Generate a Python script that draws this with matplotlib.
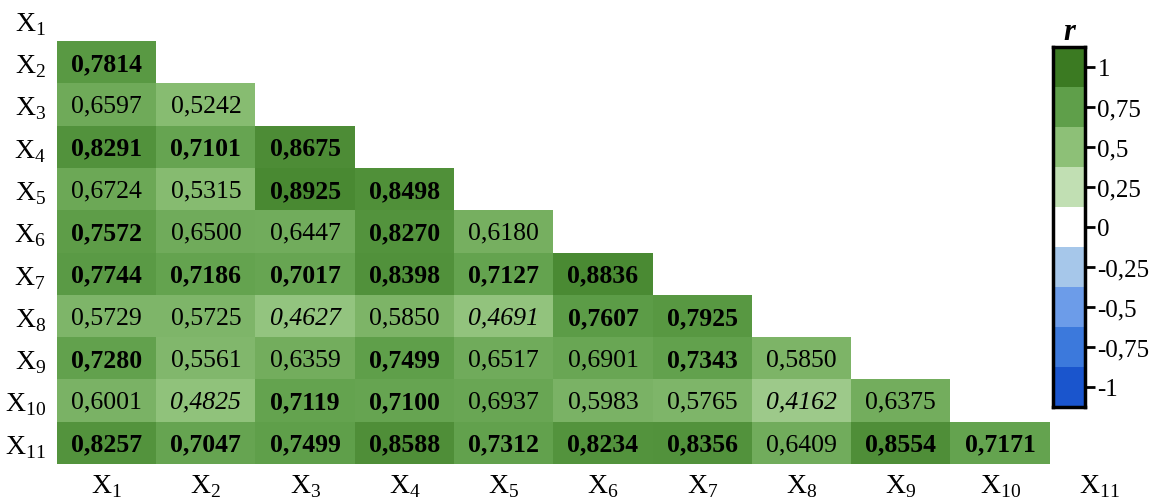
import numpy as np
import matplotlib
matplotlib.use("Agg")
import matplotlib.pyplot as plt
from matplotlib.colors import LinearSegmentedColormap, ListedColormap

plt.rcParams['font.family'] = ['Liberation Serif', 'DejaVu Serif']
plt.rcParams['mathtext.fontset'] = 'custom'
plt.rcParams['mathtext.rm'] = 'Liberation Serif'

# variable names
labels = ['X1', 'X2', 'X3', 'X4', 'X5', 'X6', 'X7', 'X8', 'X9', 'X10', 'X11']

# lower triangle of the correlation matrix, row by row (X2..X11)
row_x2 = [0.7814]
row_x3 = [0.6597, 0.5242]
row_x4 = [0.8291, 0.7101, 0.8675]
row_x5 = [0.6724, 0.5315, 0.8925, 0.8498]
row_x6 = [0.7572, 0.6500, 0.6447, 0.8270, 0.6180]
row_x7 = [0.7744, 0.7186, 0.7017, 0.8398, 0.7127, 0.8836]
row_x8 = [0.5729, 0.5725, 0.4627, 0.5850, 0.4691, 0.7607, 0.7925]
row_x9 = [0.7280, 0.5561, 0.6359, 0.7499, 0.6517, 0.6901, 0.7343, 0.5850]
row_x10 = [0.6001, 0.4825, 0.7119, 0.7100, 0.6937, 0.5983, 0.5765, 0.4162, 0.6375]
row_x11 = [0.8257, 0.7047, 0.7499, 0.8588, 0.7312, 0.8234, 0.8356, 0.6409, 0.8554, 0.7171]
rows = [[], row_x2, row_x3, row_x4, row_x5, row_x6, row_x7, row_x8, row_x9, row_x10, row_x11]

# colour scale anchors (-1 .. 1 step 0.25)
cbar_ticks = [-1, -0.75, -0.5, -0.25, 0, 0.25, 0.5, 0.75, 1]
cbar_labels = ['-1', '-0,75', '-0,5', '-0,25', '0', '0,25', '0,5', '0,75', '1']
cbar_colors = ['#1a55cd', '#3c79dc', '#6c9ce9', '#a6c7ea', '#ffffff',
               '#c1dfb3', '#8dc077', '#5f9f4a', '#3b7a22']

n = len(labels)
mat = np.full((n, n), np.nan)
for i, r in enumerate(rows):
    for j, v in enumerate(r):
        mat[i, j] = v

cmap = LinearSegmentedColormap.from_list(
    'rg', list(zip([(t + 1) / 2 for t in cbar_ticks], cbar_colors)))
cmap.set_bad('white')

W, H = 1157, 502
fig = plt.figure(figsize=(W / 100, H / 100), dpi=100)
ax = fig.add_axes([57 / W, (H - 465) / H, (1149 - 57) / W, 465 / H])
ax.imshow(np.ma.masked_invalid(mat), cmap=cmap, vmin=-1, vmax=1,
          aspect='auto', interpolation='nearest')

for i in range(n):
    for j in range(n):
        v = mat[i, j]
        if np.isnan(v):
            continue
        weight = 'bold' if v >= 0.7 else 'normal'
        style = 'italic' if v < 0.5 else 'normal'
        ax.text(j, i + 0.03, f'{v:.4f}'.replace('.', ','), ha='center', va='center',
                fontsize=18.5, fontweight=weight, fontstyle=style, color='black')

tick_txt = [r'X$_{\mathregular{%s}}$' % s[1:] for s in labels]
ax.set_xticks(range(n))
ax.set_xticklabels(tick_txt, fontsize=20)
ax.set_yticks(range(n))
ax.set_yticklabels(tick_txt, fontsize=20)
ax.tick_params(axis='y', length=0, pad=8)
ax.tick_params(axis='x', length=0, pad=6)
for sp in ax.spines.values():
    sp.set_visible(False)

# discrete colour bar
cax = fig.add_axes([1053 / W, (H - 408) / H, 32 / W, 360 / H])
cax.imshow(np.array(cbar_ticks).reshape(-1, 1), cmap=ListedColormap(cbar_colors),
           aspect='auto', origin='lower',
           extent=[0, 1, -1.125, 1.125], vmin=-1.125, vmax=1.125)
cax.set_xticks([])
cax.yaxis.tick_right()
cax.set_yticks(cbar_ticks)
cax.set_yticklabels(cbar_labels, fontsize=18)
cax.tick_params(axis='y', length=7, width=2, pad=2)
for sp in cax.spines.values():
    sp.set_linewidth(2.5)
cax.set_title('r', fontsize=22, fontweight='bold', fontstyle='italic', pad=6)

fig.savefig('out.png', dpi=100)
